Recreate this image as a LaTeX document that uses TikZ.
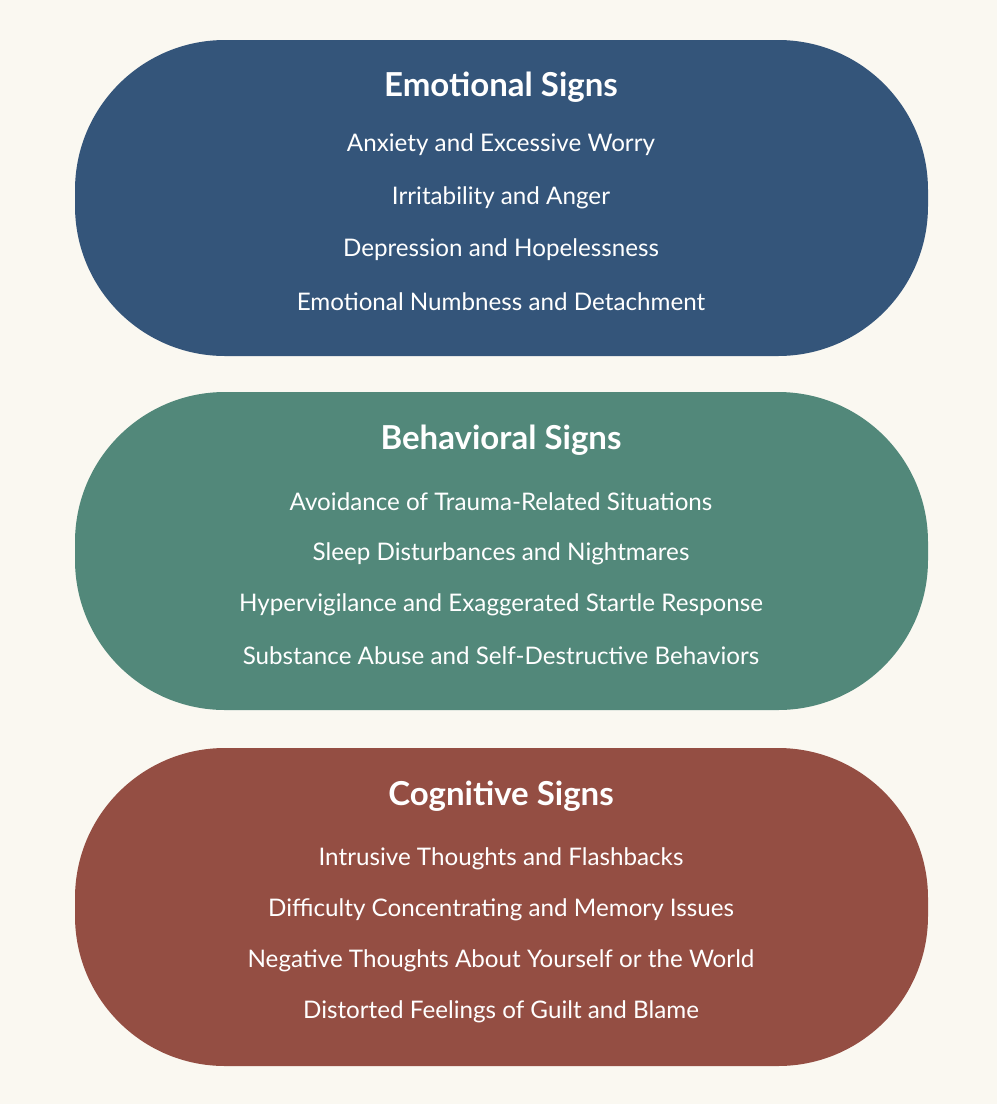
\documentclass[tikz,border=0pt]{standalone}
\usepackage{fontspec}
\setmainfont{Lato}
\definecolor{bgcream}{HTML}{FAF8F1}
\definecolor{emoblue}{HTML}{34557A}
\definecolor{behgreen}{HTML}{52887A}
\definecolor{cogred}{HTML}{944E43}
\begin{document}
\begin{tikzpicture}[x=1pt,y=-1pt]
\tikzstyle{pill}=[rounded corners=150pt]
\tikzstyle{title}=[text=white, font=\fontsize{33}{38}\selectfont\bfseries]
\tikzstyle{item}=[text=white, font=\fontsize{24.2}{28}\selectfont]
\fill[bgcream] (0,0) rectangle (997,1104);

% emotional
\fill[emoblue, pill] (75,40) rectangle (928,356);
\node [title] (emo) at (501,87) {Emotional Signs};
\node [item] (emo1) at (501,145) {Anxiety and Excessive Worry};
\node [item] (emo2) at (501,198) {Irritability and Anger};
\node [item] (emo3) at (501,250) {Depression and Hopelessness};
\node [item] (emo4) at (501,302) {Emotional Numbness and Detachment};

% behavioral
\fill[behgreen, pill] (75,392) rectangle (928,710);
\node [title] (beh) at (501,440) {Behavioral Signs};
\node [item] (beh1) at (501,502) {Avoidance of Trauma-Related Situations};
\node [item] (beh2) at (501,554) {Sleep Disturbances and Nightmares};
\node [item] (beh3) at (501,605) {Hypervigilance and Exaggerated Startle Response};
\node [item] (beh4) at (501,656) {Substance Abuse and Self-Destructive Behaviors};

% cognitive
\fill[cogred, pill] (75,748) rectangle (928,1066);
\node [title] (cog) at (501,796) {Cognitive Signs};
\node [item] (cog1) at (501,859) {Intrusive Thoughts and Flashbacks};
\node [item] (cog2) at (501,910) {Difficulty Concentrating and Memory Issues};
\node [item] (cog3) at (501,961) {Negative Thoughts About Yourself or the World};
\node [item] (cog4) at (501,1012) {Distorted Feelings of Guilt and Blame};
\end{tikzpicture}
\end{document}
